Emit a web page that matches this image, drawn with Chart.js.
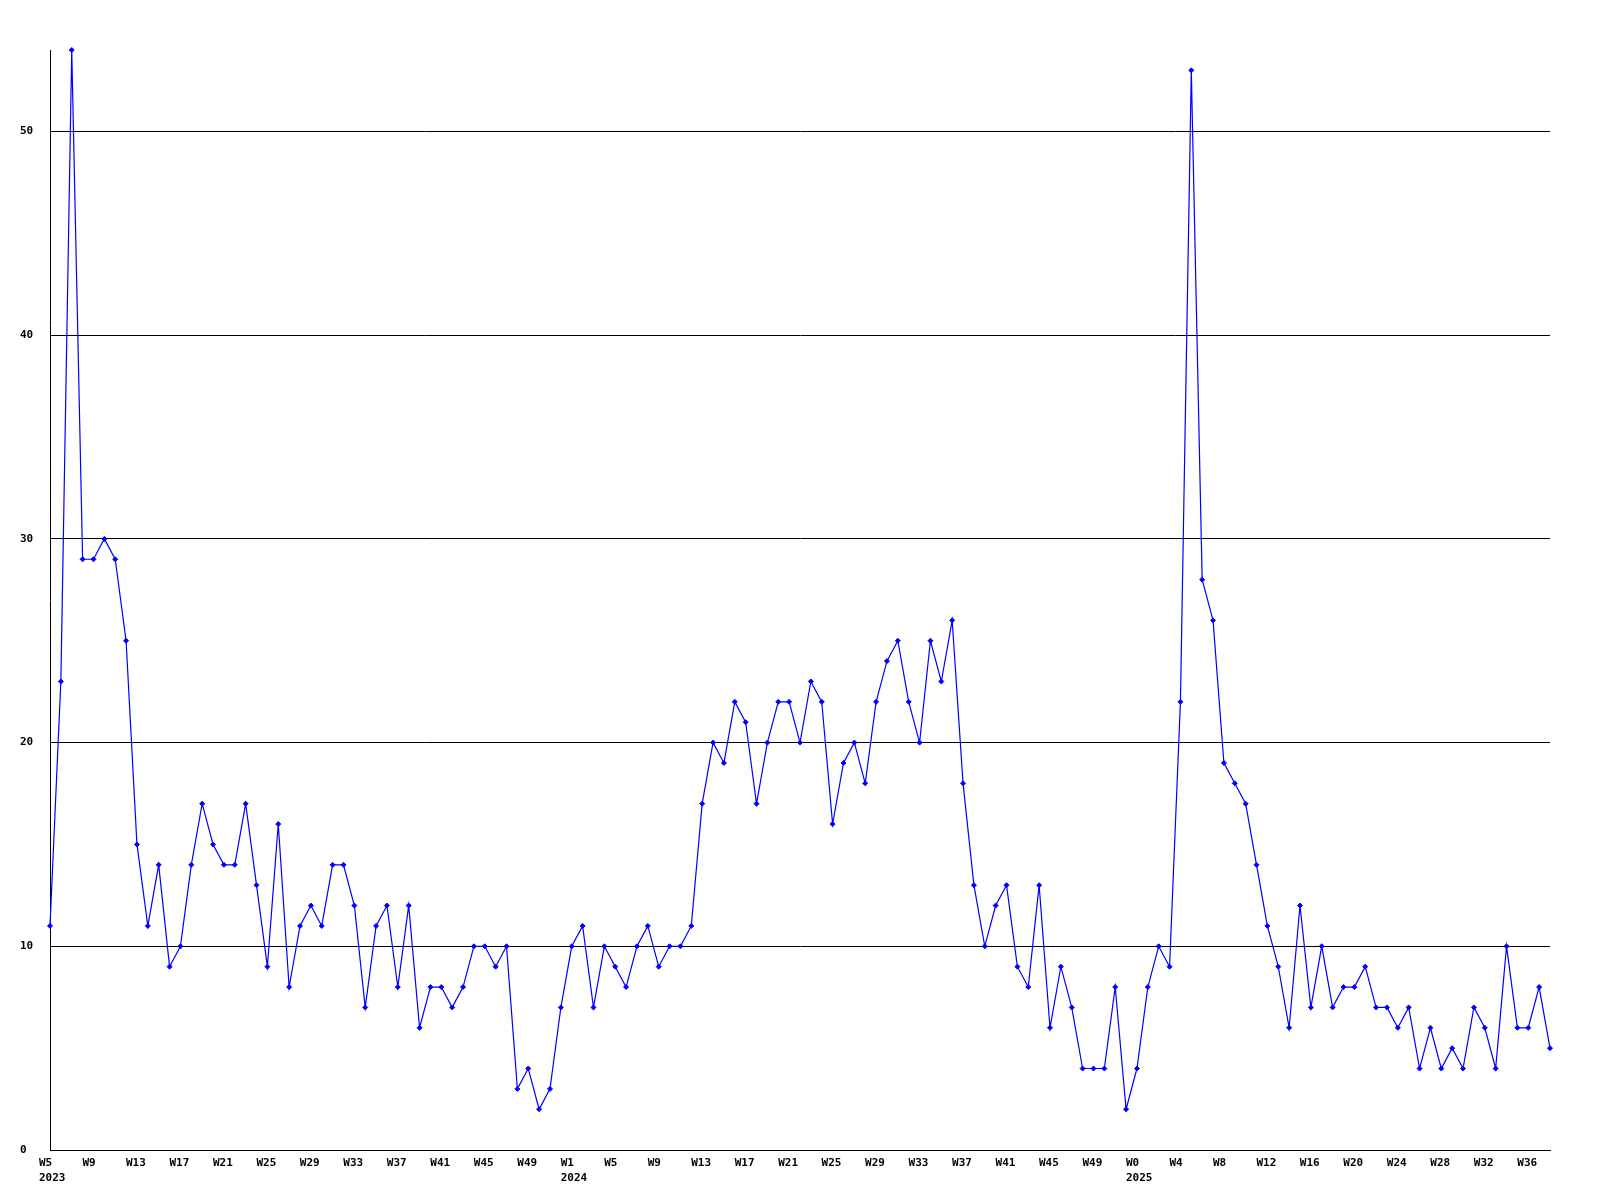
<!DOCTYPE html>
<html>
<head>
<meta charset="UTF-8">
<title>Weekly count</title>
<script src="https://cdn.jsdelivr.net/npm/chart.js"></script>
<style>
  body { margin: 0; background: #fff; }
  canvas { display: block; }
</style>
</head>
<body>
<canvas id="grafico" width="1600" height="1200"></canvas>
<script>
// week numbers per year (x categories)
const weeks2023 = [5, 6, 7, 8, 9, 10, 11, 12, 13, 14, 15, 16, 17, 18, 19, 20, 21, 22, 23, 24,
  25, 26, 27, 28, 29, 30, 31, 32, 33, 34, 35, 36, 37, 38, 39, 40, 41, 42, 43, 44,
  45, 46, 47, 48, 49, 50, 51, 52];
const weeks2024 = [1, 2, 3, 4, 5, 6, 7, 8, 9, 10, 11, 12, 13, 14, 15, 16, 17, 18, 19, 20,
  21, 22, 23, 24, 25, 26, 27, 28, 29, 30, 31, 32, 33, 34, 35, 36, 37, 38, 39, 40,
  41, 42, 43, 44, 45, 46, 47, 48, 49, 50, 51, 52];
const weeks2025 = [0, 1, 2, 3, 4, 5, 6, 7, 8, 9, 10, 11, 12, 13, 14, 15, 16, 17, 18, 19,
  20, 21, 22, 23, 24, 25, 26, 27, 28, 29, 30, 31, 32, 33, 34, 35, 36, 37, 38];

// one value per week
const values2023 = [11, 23, 54, 29, 29, 30, 29, 25, 15, 11, 14, 9, 10, 14, 17, 15, 14, 14, 17, 13,
  9, 16, 8, 11, 12, 11, 14, 14, 12, 7, 11, 12, 8, 12, 6, 8, 8, 7, 8, 10,
  10, 9, 10, 3, 4, 2, 3, 7];
const values2024 = [10, 11, 7, 10, 9, 8, 10, 11, 9, 10, 10, 11, 17, 20, 19, 22, 21, 17, 20, 22,
  22, 20, 23, 22, 16, 19, 20, 18, 22, 24, 25, 22, 20, 25, 23, 26, 18, 13, 10, 12,
  13, 9, 8, 13, 6, 9, 7, 4, 4, 4, 8, 2];
const values2025 = [4, 8, 10, 9, 22, 53, 28, 26, 19, 18, 17, 14, 11, 9, 6, 12, 7, 10, 7, 8,
  8, 9, 7, 7, 6, 7, 4, 6, 4, 5, 4, 7, 6, 4, 10, 6, 6, 8, 5];

const years = ['2023', '2024', '2025'];
const yTicks = [0, 10, 20, 30, 40, 50];

// build the category labels: "W5" plus the year under the first week of a year
const labels = [];
[weeks2023, weeks2024, weeks2025].forEach((ws, y) => {
  ws.forEach((w, i) => labels.push(i === 0 ? ['W' + w, years[y]] : ['W' + w]));
});
const valores = values2023.concat(values2024, values2025);

const fonte = { family: 'DejaVu Sans Mono', size: 11, weight: 'bold', lineHeight: 1.4 };

new Chart(document.getElementById('grafico').getContext('2d'), {
  type: 'line',
  data: {
    labels: labels,
    datasets: [{
      data: valores,
      borderColor: '#0000ff',
      borderWidth: 1.2,
      backgroundColor: '#0000ff',
      pointStyle: 'rectRot',
      pointRadius: 2.5,
      pointBorderWidth: 1,
      pointBackgroundColor: '#0000ff',
      pointBorderColor: '#0000ff',
      tension: 0,
      fill: false,
      clip: false
    }]
  },
  options: {
    responsive: false,
    animation: false,
    devicePixelRatio: 1,
    layout: { padding: { left: 20, top: 50, right: 50, bottom: 0 } },
    plugins: {
      legend: { display: false },
      tooltip: { enabled: false }
    },
    scales: {
      x: {
        type: 'category',
        offset: false,
        afterFit: (s) => { s.height = 50; },
        grid: { display: false, drawTicks: false },
        border: { display: true, color: '#000', width: 1 },
        ticks: {
          autoSkip: false,
          maxRotation: 0,
          minRotation: 0,
          align: 'start',
          labelOffset: -11,
          padding: 5,
          color: '#000',
          font: fonte,
          callback: function (value, index) {
            return index % 4 === 0 ? this.getLabelForValue(value) : null;
          }
        }
      },
      y: {
        min: 0,
        max: 54,
        afterFit: (s) => { s.width = 30; },
        afterBuildTicks: (s) => { s.ticks = yTicks.map(v => ({ value: v })); },
        grid: { color: '#000', lineWidth: 1, drawTicks: false },
        border: { display: true, color: '#000', width: 1 },
        ticks: {
          crossAlign: 'far',
          color: '#000',
          font: fonte
        }
      }
    }
  }
});
</script>
</body>
</html>
